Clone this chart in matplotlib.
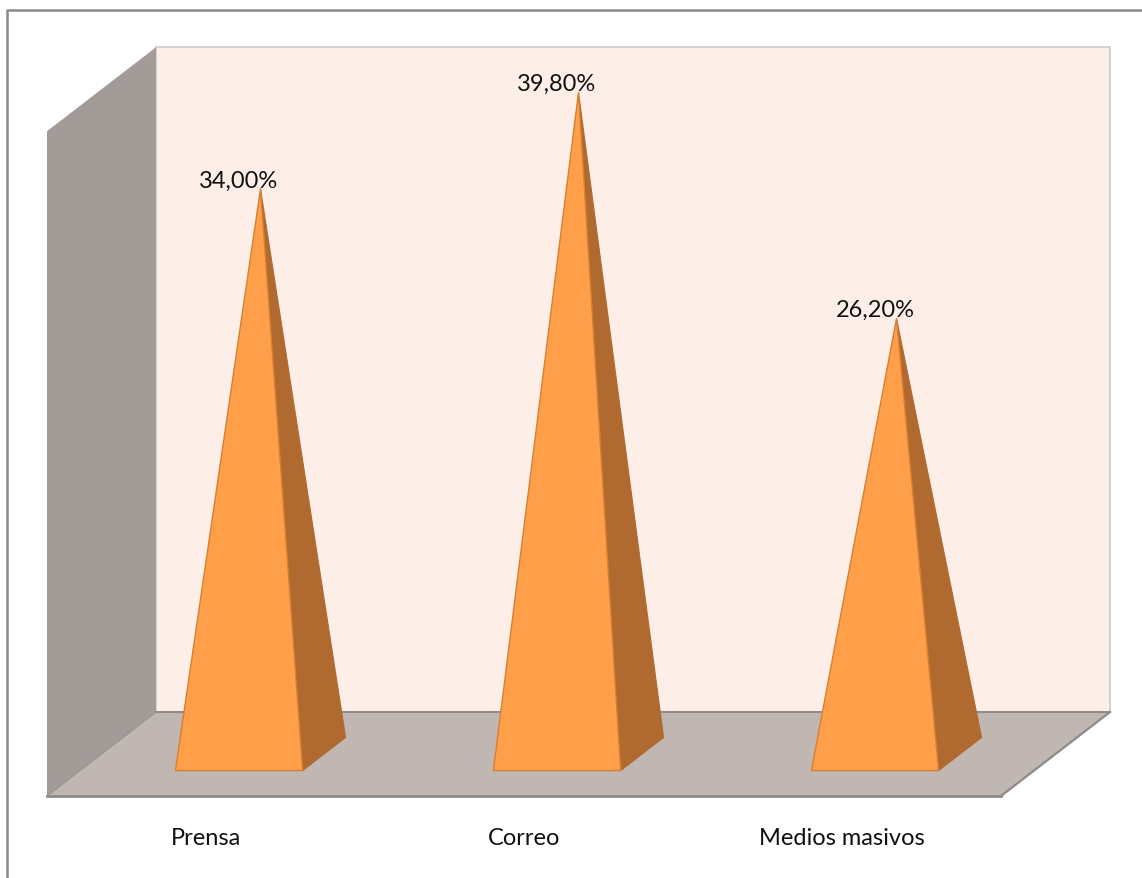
import matplotlib
matplotlib.use("Agg")
import matplotlib.pyplot as plt
from matplotlib.patches import Polygon
from matplotlib.lines import Line2D

# Data
categories = ["Prensa", "Correo", "Medios masivos"]
values = [34.0, 39.8, 26.2]
axis_max = 40.0

# Oblique 3D projection: depth d in [-0.5, 0.5] (front -> back)
DX = 109 / 318          # horizontal shift per unit depth (category units)
DY = 84 / 16.62         # vertical shift per unit depth (percent units)
BAR_W = 0.40            # pyramid base width (category units)
BAR_D = 0.197           # pyramid half-depth (depth units)


def proj(x, d, v):
    return (x + d * DX, v + d * DY)


fig = plt.figure(figsize=(11.42, 8.79), dpi=100)
ax = fig.add_axes([0, 0, 1, 1])
ax.set_xlim(-0.8192, 2.772)
ax.set_ylim(-7.461, 45.43)
ax.axis("off")

x0, x1 = -0.5, len(categories) - 0.5

wall_col = "#FDEFE8"
side_col = "#A39B98"
floor_col = "#C0B6B2"
edge_col = "#8E8A88"

# Back wall
back = [proj(x0, 0.5, 0), proj(x1, 0.5, 0), proj(x1, 0.5, axis_max), proj(x0, 0.5, axis_max)]
ax.add_patch(Polygon(back, closed=True, facecolor=wall_col, edgecolor="#CFCAC8", lw=1.2, zorder=1))

# Left side wall
side = [proj(x0, -0.5, 0), proj(x0, 0.5, 0), proj(x0, 0.5, axis_max), proj(x0, -0.5, axis_max)]
ax.add_patch(Polygon(side, closed=True, facecolor=side_col, edgecolor="none", zorder=2))

# Floor
floor = [proj(x0, -0.5, 0), proj(x1, -0.5, 0), proj(x1, 0.5, 0), proj(x0, 0.5, 0)]
ax.add_patch(Polygon(floor, closed=True, facecolor=floor_col, edgecolor="none", zorder=2))
ax.add_line(Line2D(*zip(proj(x0, 0.5, 0), proj(x1, 0.5, 0)), color=edge_col, lw=1.4, zorder=3))
ax.add_line(Line2D(*zip(proj(x0, -0.5, 0), proj(x1, -0.5, 0)), color=edge_col, lw=2.0, zorder=3))
ax.add_line(Line2D(*zip(proj(x1, -0.5, 0), proj(x1, 0.5, 0)), color=edge_col, lw=1.6, zorder=3))
ax.add_line(Line2D(*zip(proj(x0, -0.5, 0), proj(x0, 0.5, 0)), color="#9C9492", lw=1.0, zorder=3))

front_col = "#FF9F4A"
right_col = "#B06A30"
pyr_edge = "#D77F30"

for i, (cat, v) in enumerate(zip(categories, values)):
    apex = proj(i, 0, v)
    fl = proj(i - BAR_W / 2, -BAR_D, 0)
    fr = proj(i + BAR_W / 2, -BAR_D, 0)
    br = proj(i + BAR_W / 2, BAR_D, 0)
    ax.add_patch(Polygon([fr, br, apex], closed=True, facecolor=right_col,
                         edgecolor=right_col, lw=0.8, joinstyle="round", zorder=4))
    ax.add_patch(Polygon([fl, fr, apex], closed=True, facecolor=front_col,
                         edgecolor=pyr_edge, lw=1.0, joinstyle="round", zorder=5))

    # Value label above the apex, centred on the front face
    lx, _ = proj(i, -BAR_D, 0)
    label = f"{v:.2f}".replace(".", ",") + "%"
    ax.annotate(label, xy=(lx, apex[1]), xytext=(0, -1), textcoords="offset points",
                ha="center", va="bottom", fontsize=17, family="Lato", color="#111111", zorder=6)

    # Category label below the floor's front edge
    cx, cy = proj(i, -0.5, 0)
    ax.annotate(cat, xy=(cx, cy), xytext=(0, -30), textcoords="offset points",
                ha="center", va="center", fontsize=17, family="Lato", color="#111111", zorder=6)

# Chart area border
fig.add_artist(Line2D([7 / 1142, 7 / 1142, 1.0], [0.0, 1 - 11 / 879, 1 - 11 / 879],
                      transform=fig.transFigure, color="#8A8A8A", lw=1.8))

fig.savefig("out.png", dpi=100)
